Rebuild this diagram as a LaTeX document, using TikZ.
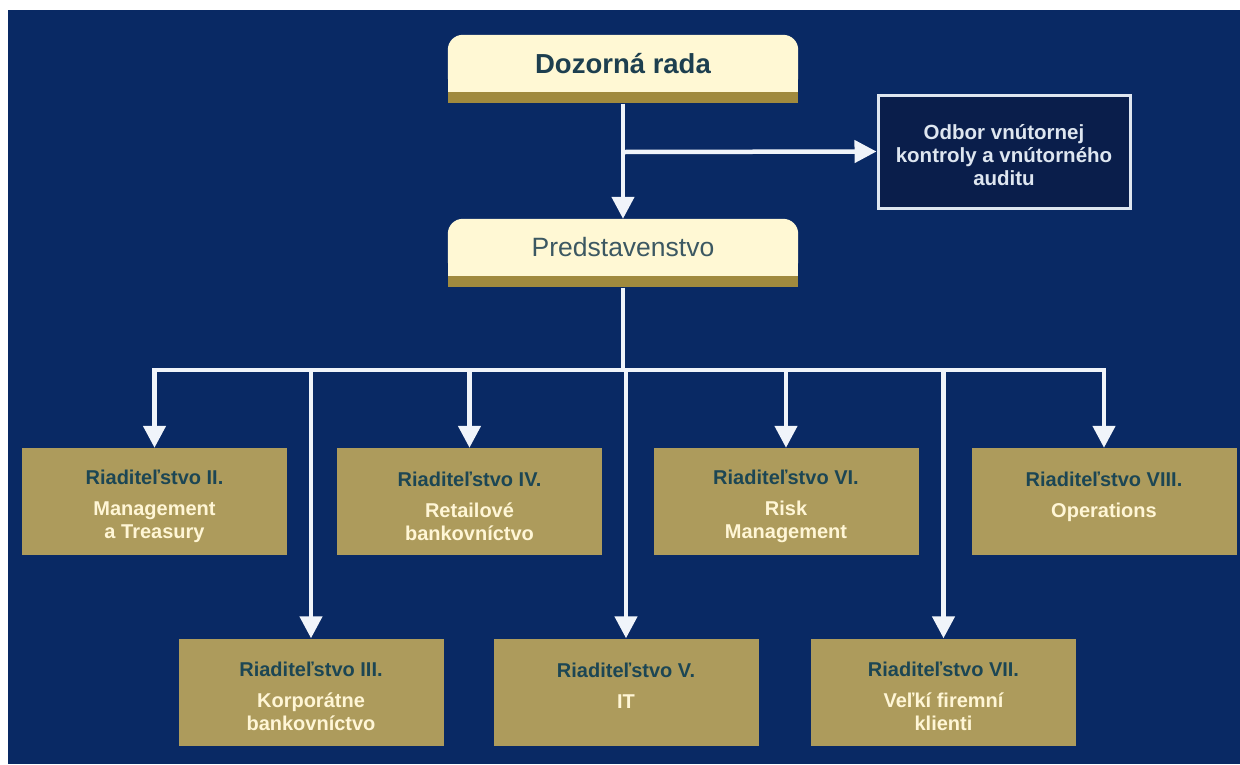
\documentclass[tikz,border=0pt]{standalone}
\usepackage{fontspec}
\setmainfont{Liberation Sans}
\usetikzlibrary{arrows.meta,backgrounds}
\definecolor{bgblue}{RGB}{9,41,100}
\definecolor{cream}{RGB}{255,248,212}
\definecolor{stripgold}{RGB}{160,138,62}
\definecolor{boxgold}{RGB}{173,155,92}
\definecolor{titleteal}{RGB}{28,70,84}
\definecolor{toptext}{RGB}{29,63,79}
\definecolor{predtext}{RGB}{60,88,98}
\definecolor{bodycream}{RGB}{255,246,214}
\definecolor{auditfill}{RGB}{10,30,75}
\definecolor{auditline}{RGB}{222,230,240}
\definecolor{linewhite}{RGB}{240,244,250}
\newcommand\rtitle[1]{\rule{0pt}{24pt}{\color{titleteal}#1}}
\begin{document}
\begin{tikzpicture}[x=1pt,y=-1pt,
  topbox/.style={minimum width=350pt, minimum height=57pt, inner sep=0pt},
  strip/.style={fill=stripgold, minimum width=350pt, minimum height=11pt, inner sep=0pt, anchor=north},
  dirbox/.style={fill=boxgold, minimum width=265pt, minimum height=107pt, inner sep=0pt, align=center,
     font=\bfseries\fontsize{20}{23}\selectfont, text=bodycream},
  auditbox/.style={fill=auditfill, draw=auditline, line width=3pt, minimum width=252pt, minimum height=113pt,
     inner sep=0pt, align=center, font=\bfseries\fontsize{20.5}{23}\selectfont, text=auditline},
  conn/.style={draw=linewhite, line width=4.5pt},
  arr/.style={conn, -{Triangle[width=22pt,length=22pt]}},
]
\useasboundingbox (0,0) rectangle (1240,764);

% top boxes
\node[topbox, font=\bfseries\fontsize{27.5}{30}\selectfont, text=toptext] (dr) at (623,63.5) {Dozorná rada};
\node[strip] (drb) at (dr.south) {};
\node[topbox, font=\fontsize{26.5}{30}\selectfont, text=predtext] (pr) at (623,247.5) {Predstavenstvo};
\node[strip] (prb) at (pr.south) {};
\begin{scope}[on background layer]
  \fill[white] (0,0) rectangle (1240,764);
  \fill[bgblue] (8,10) rectangle (1240,764);
  \fill[cream, rounded corners=15pt] (dr.north west) rectangle (dr.south east);
  \fill[cream] ([yshift=15pt]dr.south west) rectangle (dr.south east);
  \fill[cream, rounded corners=15pt] (pr.north west) rectangle (pr.south east);
  \fill[cream] ([yshift=15pt]pr.south west) rectangle (pr.south east);
\end{scope}

\node[auditbox] (au) at (1004,151.5) {\rule{0pt}{23pt}Odbor vnútornej\\ kontroly a vnútorného\\ auditu};

% director boxes
\node[dirbox] (b2) at (154.5,501.5) {\rtitle{Riaditeľstvo II.}\\[8pt] Management\\ a Treasury};
\node[dirbox] (b4) at (469.5,501.5) {\rtitle{Riaditeľstvo IV.}\\[8pt] Retailové\\ bankovníctvo};
\node[dirbox] (b6) at (786,501.5) {\rtitle{Riaditeľstvo VI.}\\[8pt] Risk\\ Management};
\node[dirbox] (b8) at (1104,501.5) {\rtitle{Riaditeľstvo VIII.}\\[8pt] Operations\\ \mbox{}};
\node[dirbox] (b3) at (311,692) {\rtitle{Riaditeľstvo III.}\\[8pt] Korporátne\\ bankovníctvo};
\node[dirbox] (b5) at (626,692) {\rtitle{Riaditeľstvo V.}\\[8pt] IT\\ \mbox{}};
\node[dirbox] (b7) at (943.5,692) {\rtitle{Riaditeľstvo VII.}\\[8pt] Veľkí firemní\\ klienti};

% connectors
\coordinate (split) at (623,152);
\coordinate (bus) at (623,370);
\draw[arr] (drb.south) -- (pr.north);
\draw[arr] (split) -- (au.west);
\draw[conn] (prb.south) -- (bus);
\draw[conn, line cap=rect] (bus -| b2.north) -- (bus -| b8.north);
\foreach \b in {b2,b4,b6,b8,b3,b5,b7}{
  \draw[arr] (bus -| \b.north) -- (\b.north);
}
\end{tikzpicture}
\end{document}
